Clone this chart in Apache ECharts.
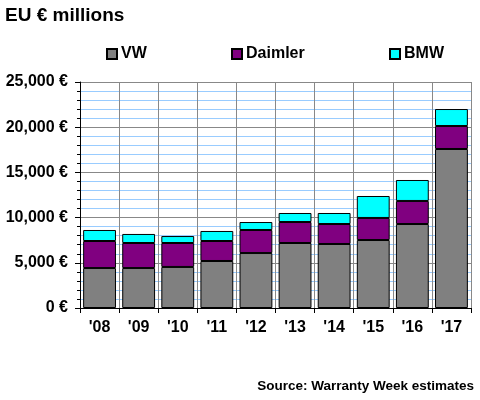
<!DOCTYPE html>
<html><head><meta charset="utf-8">
<script src="https://cdn.jsdelivr.net/npm/echarts@6/dist/echarts.min.js"></script>
<style>html,body{margin:0;padding:0;background:#fff}#c{width:480px;height:400px}</style>
</head><body><div id="c"></div>
<script>
var categories = ["'08","'09","'10","'11","'12","'13","'14","'15","'16","'17"];
var vw      = [4420, 4420, 4540, 5200, 6080, 7190, 7080, 7520, 9290, 17590];
var daimler = [2990, 2770, 2650, 2210, 2550, 2320, 2210, 2440, 2550, 2540];
var bmw     = [1220, 1000,  770, 1110,  880, 1000, 1220, 2430, 2320, 1880];
var yTicks  = [0, 5000, 10000, 15000, 20000, 25000];
var seriesNames = ['VW', 'Daimler', 'BMW'];

var font = 'Arial, "Liberation Sans", sans-serif';
function fmt(v){ return v.toString().replace(/\B(?=(\d{3})+(?!\d))/g, ',') + ' €'; }
var chart = echarts.init(document.getElementById('c'));
var barStyle = function(c){ return {color:c, borderColor:'#000', borderWidth:1}; };
var legendLefts = [101, 226, 384];
var legends = seriesNames.map(function(n, i){
  return {top:41, left:legendLefts[i], itemWidth:10, itemHeight:10, icon:'rect',
    textStyle:{fontFamily:font, fontWeight:'bold', fontSize:16, color:'#000', padding:[0,0,0,-1]},
    data:[n]};
});
chart.setOption({
  animation:false,
  title:{text:'EU € millions', left:0, top:1, textStyle:{fontFamily:font, fontWeight:'bold', fontSize:19, color:'#000'}},
  legend:legends,
  graphic:[{type:'text', right:6, top:379, style:{text:'Source: Warranty Week estimates', fill:'#000', font:'bold 13.5px '+font, textAlign:'right'}}],
  grid:{left:80, right:9, top:82, bottom:92},
  xAxis:{type:'category', data:categories, boundaryGap:true,
    axisLine:{lineStyle:{color:'#000', width:1}},
    axisTick:{show:true, length:5, lineStyle:{color:'#000'}},
    axisLabel:{fontFamily:font, fontWeight:'bold', fontSize:16, color:'#000', margin:12},
    splitLine:{show:true, lineStyle:{color:'#888', width:1}}},
  yAxis:{type:'value', min:0, max:25000, interval:5000,
    axisLine:{show:true, lineStyle:{color:'#000'}},
    axisTick:{show:true, length:5, lineStyle:{color:'#000'}},
    minorTick:{show:true, splitNumber:5, length:3, lineStyle:{color:'#000'}},
    axisLabel:{fontFamily:font, fontWeight:'bold', fontSize:16, color:'#000', margin:12,
      formatter:function(v){ return yTicks.indexOf(v)>=0 ? fmt(v) : ''; }},
    splitLine:{show:true, lineStyle:{color:'#888', width:1}},
    minorSplitLine:{show:true, lineStyle:{color:'#99ccff', width:1}}},
  series:[
    {name:'VW', type:'bar', stack:'t', data:vw, itemStyle:barStyle('#808080'), barCategoryGap:'16%'},
    {name:'Daimler', type:'bar', stack:'t', data:daimler, itemStyle:barStyle('#800080')},
    {name:'BMW', type:'bar', stack:'t', data:bmw, itemStyle:barStyle('#00ffff')}
  ]
});
</script></body></html>
